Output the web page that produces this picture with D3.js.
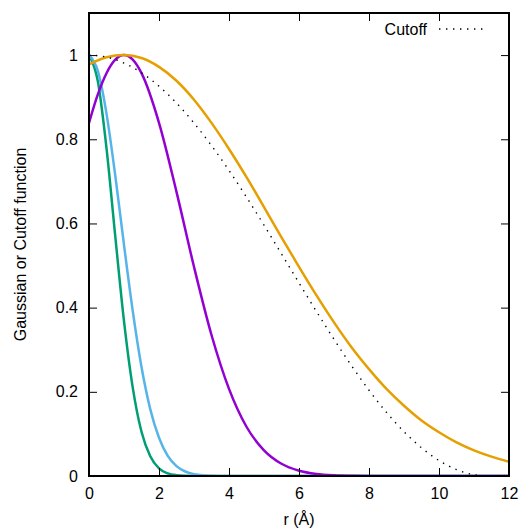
<!DOCTYPE html>
<html><head><meta charset="utf-8">
<script src="https://cdn.jsdelivr.net/npm/d3@7"></script>
<style>body{margin:0;background:#fff}svg{display:block}text{font-family:"Liberation Sans",Arial,sans-serif;}</style>
</head><body>
<script>
// ---- data ----
const xTicks = [0, 2, 4, 6, 8, 10, 12];
const yTicks = [0, 0.2, 0.4, 0.6, 0.8, 1];
const yTickLabels = ["0", "0.2", "0.4", "0.6", "0.8", "1"];

const greenR = [0,0.25,0.5,0.75,1,1.25,1.5,1.75,2,2.25,2.5,2.75,3,4,12];
const greenV = [1,0.939,0.779,0.570,0.368,0.210,0.105,0.047,0.018,0.0063,0.0019,0.0005,0.0001,0,0];

const cyanR = [0,0.25,0.5,0.75,1,1.25,1.5,1.75,2,2.25,2.5,2.75,3,3.5,4,12];
const cyanV = [1,0.963,0.861,0.714,0.549,0.392,0.259,0.159,0.091,0.048,0.0235,0.0107,0.0045,0.0006,0.0001,0];

const purpleR = [0,0.25,0.5,0.75,1,1.25,1.5,2,2.5,3,3.5,4,4.5,5,5.5,6,6.5,7,7.5,8,12];
const purpleV = [0.839,0.906,0.957,0.989,1,0.989,0.957,0.839,0.675,0.497,0.335,0.207,0.117,0.061,0.029,0.0126,0.005,0.0018,0.0006,0.0002,0];

const orangeR = [0,0.5,1,1.5,2,2.5,3,3.5,4,4.5,5,5.5,6,6.5,7,7.5,8,8.5,9,9.5,10,10.5,11,11.5,12];
const orangeV = [0.978,0.995,1,0.993,0.972,0.939,0.894,0.839,0.777,0.710,0.639,0.567,0.497,0.429,0.365,0.306,0.254,0.207,0.167,0.132,0.104,0.080,0.061,0.046,0.034];

const cutoffR = [0,0.5,1,1.5,2,2.5,3,3.5,4,4.5,5,5.5,6,6.5,7,7.5,8,8.5,9,9.5,10,10.5,11,11.4,12];
const cutoffV = [1,0.9953,0.9811,0.9579,0.926,0.886,0.8386,0.785,0.726,0.6625,0.5959,0.5275,0.4587,0.3907,0.3248,0.2622,0.2037,0.1511,0.1054,0.067,0.0368,0.0152,0.003,0,0];

const legendLabel = "Cutoff";
const xTitle = "r (Å)";
const yTitle = "Gaussian or Cutoff function";

// ---- layout ----
const W = 524, H = 530;
const L = 89, R = 509, T = 13, B = 476;
const FS = 16;
const colors = {green:"#009e73", cyan:"#56b4e9", purple:"#9400d3", orange:"#e69f00"};

const svg = d3.select("body").append("svg").attr("width", W).attr("height", H);
const x = d3.scaleLinear().domain([0, 12]).range([L, R]);
const y = d3.scaleLinear().domain([0, 1.1]).range([B, T]);

svg.append("defs").append("clipPath").attr("id","clip")
  .append("rect").attr("x",L).attr("y",T).attr("width",R-L).attr("height",B-T);

const line = d3.line().x(d=>x(d[0])).y(d=>y(d[1])).curve(d3.curveMonotoneX);
const zip = (a,b)=>a.map((v,i)=>[v,b[i]]);

const g = svg.append("g").attr("clip-path","url(#clip)");
const series = [
  [greenR, greenV, colors.green],
  [cyanR, cyanV, colors.cyan],
  [purpleR, purpleV, colors.purple],
  [orangeR, orangeV, colors.orange]
];
series.forEach(([r,v,c])=>{
  g.append("path").attr("d", line(zip(r,v))).attr("fill","none")
   .attr("stroke", c).attr("stroke-width", 2.5).attr("stroke-linejoin","round");
});
g.append("path").attr("d", line(zip(cutoffR, cutoffV))).attr("fill","none")
  .attr("stroke","#000").attr("stroke-width",1.4).attr("stroke-dasharray","1.4,5.6");

// axes (ticks inward, mirrored)
const tl = 8;
const axB = svg.append("g").attr("transform",`translate(0,${B})`)
  .call(d3.axisBottom(x).tickValues(xTicks).tickSize(-tl).tickPadding(12).tickFormat(d3.format("d")));
const axT = svg.append("g").attr("transform",`translate(0,${T})`)
  .call(d3.axisTop(x).tickValues(xTicks).tickSize(-tl).tickFormat(""));
const axL = svg.append("g").attr("transform",`translate(${L},0)`)
  .call(d3.axisLeft(y).tickValues(yTicks).tickSize(-tl).tickPadding(11).tickFormat((d,i)=>yTickLabels[i]));
const axR = svg.append("g").attr("transform",`translate(${R},0)`)
  .call(d3.axisRight(y).tickValues(yTicks).tickSize(-tl).tickFormat(""));
[axB,axT,axL,axR].forEach(a=>{
  a.select(".domain").remove();
  a.selectAll(".tick line").attr("stroke","#000").attr("stroke-width",1);
  a.selectAll("text").attr("font-size",FS).attr("fill","#000")
   .attr("font-family",'"Liberation Sans",Arial,sans-serif');
});

svg.append("rect").attr("x",L).attr("y",T).attr("width",R-L).attr("height",B-T)
  .attr("fill","none").attr("stroke","#000").attr("stroke-width",2);

// legend
svg.append("text").attr("x",427).attr("y",35).attr("text-anchor","end")
  .attr("font-size",FS).text(legendLabel);
svg.append("line").attr("x1",439).attr("x2",488).attr("y1",29).attr("y2",29)
  .attr("stroke","#000").attr("stroke-width",1.4).attr("stroke-dasharray","1.4,5.6");

// titles
svg.append("text").attr("x",(L+R)/2).attr("y",525).attr("text-anchor","middle")
  .attr("font-size",FS).text(xTitle);
svg.append("text").attr("transform",`translate(26,${(T+B)/2}) rotate(-90)`)
  .attr("text-anchor","middle").attr("font-size",FS).text(yTitle);
</script>
</body></html>
